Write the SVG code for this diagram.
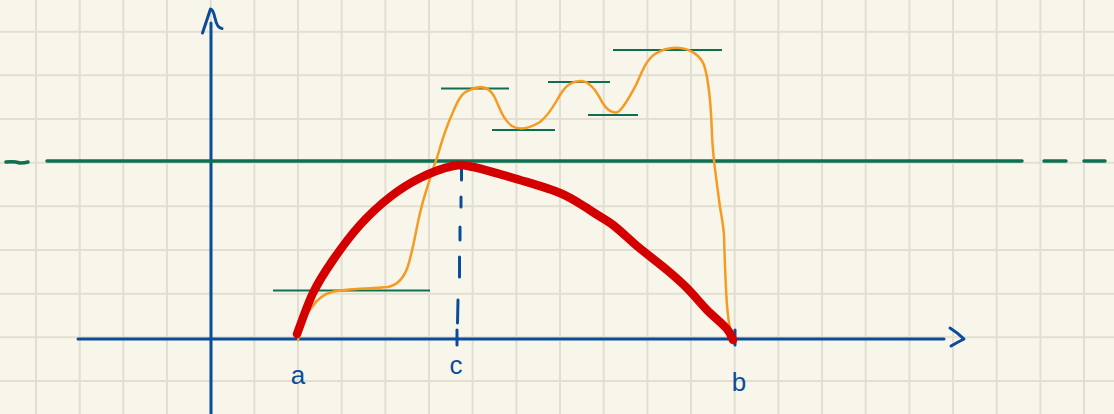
<svg xmlns="http://www.w3.org/2000/svg" width="1114" height="414" viewBox="0 0 1114 414">
<style>
.grid line{stroke:#e2dfd2;stroke-width:2}
.axis{stroke:#0b4c9a;stroke-width:3;fill:none;stroke-linecap:round;stroke-linejoin:round}
.lvl{stroke:#0e7050;stroke-width:3.5;fill:none;stroke-linecap:round}
.thin{stroke:#0e7050;stroke-width:1.8;fill:none}
.red{stroke:#d40000;stroke-width:8.5;fill:none;stroke-linecap:round;stroke-linejoin:round}
.orange{stroke:#f59b22;stroke-width:2.5;fill:none;stroke-linecap:round;stroke-linejoin:round}
.lbl{font-family:"Liberation Sans",sans-serif;font-size:26px;fill:#0b4c9a;text-anchor:middle}
</style>
<rect width="1114" height="414" fill="#f8f6ea"/>
<g class="grid">
<line x1="36" y1="0" x2="36" y2="414"/><line x1="79.7" y1="0" x2="79.7" y2="414"/><line x1="123.3" y1="0" x2="123.3" y2="414"/><line x1="167" y1="0" x2="167" y2="414"/><line x1="210.7" y1="0" x2="210.7" y2="414"/><line x1="254.4" y1="0" x2="254.4" y2="414"/><line x1="298" y1="0" x2="298" y2="414"/><line x1="341.7" y1="0" x2="341.7" y2="414"/><line x1="385.4" y1="0" x2="385.4" y2="414"/><line x1="429" y1="0" x2="429" y2="414"/><line x1="472.7" y1="0" x2="472.7" y2="414"/><line x1="516.4" y1="0" x2="516.4" y2="414"/><line x1="560" y1="0" x2="560" y2="414"/><line x1="603.7" y1="0" x2="603.7" y2="414"/><line x1="647.4" y1="0" x2="647.4" y2="414"/><line x1="691" y1="0" x2="691" y2="414"/><line x1="734.7" y1="0" x2="734.7" y2="414"/><line x1="778.4" y1="0" x2="778.4" y2="414"/><line x1="822" y1="0" x2="822" y2="414"/><line x1="865.7" y1="0" x2="865.7" y2="414"/><line x1="909.4" y1="0" x2="909.4" y2="414"/><line x1="953" y1="0" x2="953" y2="414"/><line x1="996.7" y1="0" x2="996.7" y2="414"/><line x1="1040.4" y1="0" x2="1040.4" y2="414"/><line x1="1084" y1="0" x2="1084" y2="414"/>
<line x1="0" y1="31.7" x2="1114" y2="31.7"/><line x1="0" y1="75.3" x2="1114" y2="75.3"/><line x1="0" y1="119" x2="1114" y2="119"/><line x1="0" y1="162.7" x2="1114" y2="162.7"/><line x1="0" y1="206.3" x2="1114" y2="206.3"/><line x1="0" y1="250" x2="1114" y2="250"/><line x1="0" y1="293.7" x2="1114" y2="293.7"/><line x1="0" y1="337.3" x2="1114" y2="337.3"/><line x1="0" y1="381" x2="1114" y2="381"/>
</g>
<g id="axes">
<line class="axis" x1="211" y1="23" x2="211" y2="414"/>
<path class="axis" d="M202.5,33 L210.5,9 Q213,9 215,18 Q217,28 222,28.5"/>
<line class="axis" x1="78" y1="339" x2="944" y2="339"/>
<path class="axis" d="M950,328 Q958,333 964,339 Q958,342 951,346"/>
<line class="axis" x1="457" y1="330" x2="457" y2="345"/>
<line class="axis" x1="735" y1="330" x2="735" y2="345"/>
</g>
<g id="level-lines">
<line class="lvl" x1="47" y1="161" x2="1022" y2="161"/>
<path class="lvl" d="M6,162 Q14,161 20,163 Q25,163 28,162"/>
<line class="lvl" x1="1044" y1="161" x2="1066" y2="161"/>
<line class="lvl" x1="1084" y1="161" x2="1105" y2="161"/>
<line class="thin" x1="273" y1="290.5" x2="430" y2="290.5"/>
<line class="thin" x1="441" y1="88.5" x2="509" y2="88.5"/>
<line class="thin" x1="492" y1="130" x2="555" y2="130"/>
<line class="thin" x1="548" y1="82" x2="610" y2="82"/>
<line class="thin" x1="588" y1="115" x2="638" y2="115"/>
<line class="thin" x1="613" y1="50" x2="722" y2="50"/>
</g>
<g id="dashed-c">
<path class="axis" d="M461.5,163 L461.5,180 M461,197 L461,207 M460,227 L460,240 M459.5,257 L459.5,277 M458,300 L457.5,323" stroke-width="2.5"/>
</g>
<g id="orange-curve">
<path class="orange" d="M298,340 C301,325 305,315 312,307 C318,298 324,294 332,292 C345,288 370,289 388,287 C398,285 404,278 408,266 C413,250 416,230 420,213 C423,200 425,194 428,185 C432,172 434,165 437,158 C442,140 447,125 453,112 C458,100 462,92 470,90 C480,85 488,86 494,96 C500,108 503,120 512,126 C520,131 530,128 540,122 C550,114 554,105 560,95 C566,85 572,81 582,81 C590,82 596,90 602,102 C607,110 612,114 618,112 C624,108 630,96 636,85 C642,72 646,60 655,54 C663,49 670,47 680,48 C690,49 700,55 704,65 C709,80 711,105 712,135 C713,160 716,175 719,200 C721,215 723,222 724,235 C725,270 726,300 728,315 C729,325 730,330 732,335"/>
</g>
<g id="red-curve">
<path class="red" d="M297,334 C299.7,327.2 307,305.3 313,293 C319,280.7 325.2,271.3 333,260 C340.8,248.7 350.5,235.5 360,225 C369.5,214.5 380,204.8 390,197 C400,189.2 409.5,183.2 420,178 C430.5,172.8 444.2,167.8 453,166 C461.8,164.2 461.8,164.7 473,167 C484.2,169.3 505.5,175.7 520,180 C534.5,184.3 548.8,188.3 560,193 C571.2,197.7 578.2,202.7 587,208 C595.3,214.3 604.7,218.7 613,225 C621.3,231.3 628,238.5 637,246 C646,253.5 658.7,263 667,270 C675.3,277 680.3,281.3 687,288 C693.7,294.7 700.3,303.2 707,310 C713.7,316.8 722.7,324 727,329 C731.3,334 732,338.2 733,340"/>
</g>
<g id="labels">
<text class="lbl" x="298" y="384">a</text>
<text class="lbl" x="456" y="374">c</text>
<text class="lbl" x="739" y="391">b</text>
</g>
</svg>
